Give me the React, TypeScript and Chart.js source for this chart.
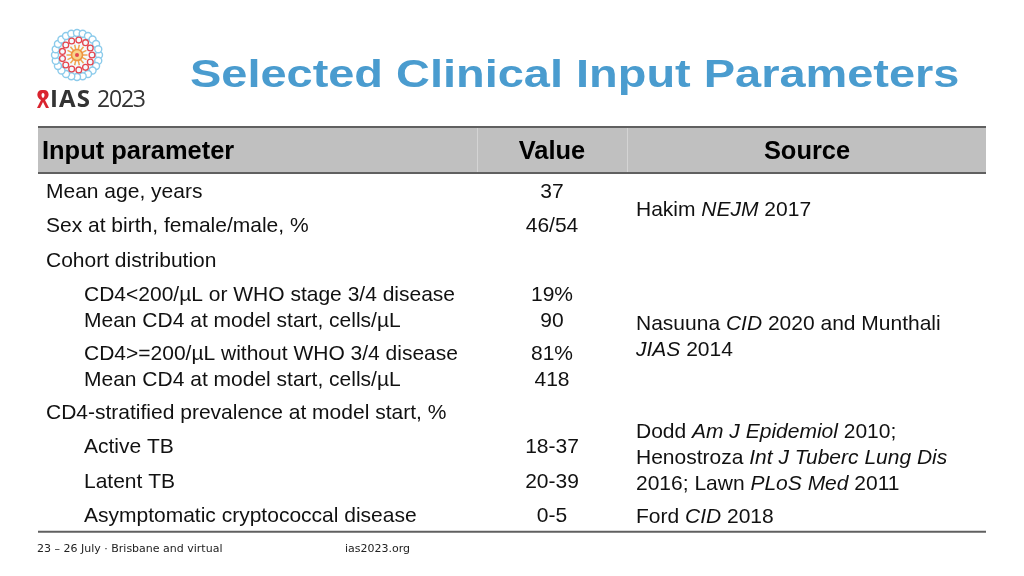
import React, { useEffect, useRef } from "react";
import { Chart, registerables } from "chart.js";

Chart.register(...registerables);

// ---- data ----
const title = "Selected Clinical Input Parameters";
const headers = ["Input parameter", "Value", "Source"];
const parameters = [
  "Mean age, years",
  "Sex at birth, female/male, %",
  "Cohort distribution",
  "CD4<200/µL or WHO stage 3/4 disease",
  "Mean CD4 at model start, cells/µL",
  "CD4>=200/µL without WHO 3/4 disease",
  "Mean CD4 at model start, cells/µL",
  "CD4-stratified prevalence at model start, %",
  "Active TB",
  "Latent TB",
  "Asymptomatic cryptococcal disease",
];
const indentLevel = [0, 0, 0, 1, 1, 1, 1, 0, 1, 1, 1];
const values = ["37", "46/54", "", "19%", "90", "81%", "418", "", "18-37", "20-39", "0-5"];
// source lines: segments of [text, italic]
const sources: [string, boolean][][] = [
  [["Hakim ", false], ["NEJM", true], [" 2017", false]],
  [["Nasuuna ", false], ["CID", true], [" 2020 and Munthali", false]],
  [["JIAS", true], [" 2014", false]],
  [["Dodd ", false], ["Am J Epidemiol", true], [" 2010;", false]],
  [["Henostroza ", false], ["Int J Tuberc Lung Dis", true]],
  [["2016; Lawn ", false], ["PLoS Med", true], [" 2011", false]],
  [["Ford ", false], ["CID", true], [" 2018", false]],
];
const footerLeft = "23 – 26 July · Brisbane and virtual";
const footerRight = "ias2023.org";

// ---- layout (row units) ----
const paramRows = [0, 1, 2, 3, 3.75, 4.7, 5.45, 6.4, 7.4, 8.4, 9.4];
const sourceRows = [0.52, 3.83, 4.58, 6.96, 7.71, 8.46, 9.42];
const ROW_PX = 34.5;
const FIRST_ROW_PX = 192;
const HEADER_ROW = -1.17;
const TABLE_TOP = -1.884;
const HEADER_BOTTOM = -0.55;
const TABLE_BOTTOM = 9.85;
const X_TABLE_LEFT = 38;
const X_TABLE_RIGHT = 986;
const X_PARAM = 46;
const X_INDENT = 84;
const X_VALUE = 552;
const X_SOURCE = 636;
const X_SEP1 = 477;
const X_SEP2 = 627;
const X_SOURCE_HEAD = 807;

const FONT = '"Liberation Sans", Arial, Helvetica, sans-serif';

const tablePlugin = {
  id: "tablePlugin",
  afterDraw(chart: any) {
    const ctx = chart.ctx as CanvasRenderingContext2D;
    const xs = chart.scales.x;
    const ys = chart.scales.y;
    const px = (v: number) => xs.getPixelForValue(v);
    const py = (v: number) => ys.getPixelForValue(v);
    ctx.save();

    // title
    ctx.fillStyle = "#4a9ccf";
    ctx.font = `bold 38px ${FONT}`;
    ctx.textBaseline = "alphabetic";
    ctx.textAlign = "left";
    ctx.save();
    ctx.translate(px(190), 87);
    ctx.scale(1.235, 1);
    ctx.fillText(title, 0, 0);
    ctx.restore();
    ctx.textBaseline = "middle";

    // header background
    const top = py(TABLE_TOP);
    const hb = py(HEADER_BOTTOM);
    ctx.fillStyle = "#c0c0c0";
    ctx.fillRect(px(X_TABLE_LEFT), top, px(X_TABLE_RIGHT) - px(X_TABLE_LEFT), hb - top);
    ctx.strokeStyle = "#d4d4d4";
    ctx.lineWidth = 1;
    [X_SEP1, X_SEP2].forEach((s) => {
      ctx.beginPath();
      ctx.moveTo(px(s) + 0.5, top);
      ctx.lineTo(px(s) + 0.5, hb);
      ctx.stroke();
    });
    ctx.strokeStyle = "#606060";
    ctx.lineWidth = 2;
    [top, hb, py(TABLE_BOTTOM)].forEach((y) => {
      ctx.beginPath();
      ctx.moveTo(px(X_TABLE_LEFT), y);
      ctx.lineTo(px(X_TABLE_RIGHT), y);
      ctx.stroke();
    });

    // header text
    ctx.fillStyle = "#000";
    ctx.font = `bold 26.5px ${FONT}`;
    const hy = py(HEADER_ROW);
    const drawHead = (t: string, x: number, align: CanvasTextAlign) => {
      ctx.save();
      ctx.translate(x, hy);
      ctx.scale(0.96, 1);
      ctx.textAlign = align;
      ctx.fillText(t, 0, 0);
      ctx.restore();
    };
    drawHead(headers[0], px(42), "left");
    drawHead(headers[1], px(X_VALUE), "center");
    drawHead(headers[2], px(X_SOURCE_HEAD), "center");

    // body
    ctx.font = `21px ${FONT}`;
    ctx.fillStyle = "#111";
    parameters.forEach((p, i) => {
      const y = py(paramRows[i]);
      ctx.textAlign = "left";
      ctx.fillText(p, px(indentLevel[i] ? X_INDENT : X_PARAM), y);
      if (values[i]) {
        ctx.textAlign = "center";
        ctx.fillText(values[i], px(X_VALUE), y);
      }
    });
    ctx.textAlign = "left";
    sources.forEach((segs, i) => {
      const y = py(sourceRows[i]);
      let x = px(X_SOURCE);
      segs.forEach(([t, it]) => {
        ctx.font = `${it ? "italic " : ""}21px ${FONT}`;
        ctx.fillText(t, x, y);
        x += ctx.measureText(t).width;
      });
    });

    // footer
    ctx.fillStyle = "#222";
    ctx.font = `11px "DejaVu Sans", Verdana, sans-serif`;
    ctx.fillText(footerLeft, px(37), 549);
    ctx.fillText(footerRight, px(345), 549);
    ctx.restore();
  },
};

function Logo() {
  const cx = 77;
  const cy = 55;
  const beads = Array.from({ length: 24 }, (_, i) => (i / 24) * Math.PI * 2);
  const scallops = Array.from({ length: 13 }, (_, i) => (i / 13) * Math.PI * 2);
  const rays = Array.from({ length: 14 }, (_, i) => (i / 14) * Math.PI * 2);
  return (
    <svg width={180} height={130} style={{ position: "absolute", left: 0, top: 0 }}>
      <circle cx={cx} cy={cy} r={22} fill="#f3fafe" />
      {beads.map((a, i) => (
        <circle key={"b" + i} cx={cx + 22 * Math.cos(a)} cy={cy + 22 * Math.sin(a)} r={3.5} fill="#fff" stroke="#8ccbeb" strokeWidth={1.4} />
      ))}
      {scallops.map((a, i) => {
        const r = 15;
        return <circle key={"s" + i} cx={cx + r * Math.cos(a)} cy={cy + r * Math.sin(a)} r={2.9} fill="none" stroke="#e5464e" strokeWidth={1.3} />;
      })}
      {rays.map((a, i) => (
        <line key={"r" + i} x1={cx + 5 * Math.cos(a)} y1={cy + 5 * Math.sin(a)} x2={cx + 10.5 * Math.cos(a)} y2={cy + 10.5 * Math.sin(a)} stroke="#f2a650" strokeWidth={1.5} />
      ))}
      <circle cx={cx} cy={cy} r={5.5} fill="#f8d48a" stroke="#ef9240" strokeWidth={1.6} />
      <circle cx={cx} cy={cy} r={2} fill="#e5464e" />
      <path d="M42 90 C36 90 36 98 41 100 L37 108 L40 108 L43 102 L46 108 L49 108 L45 100 C50 98 50 90 44 90 Z M43 93 C45 93 45 97 43 98 C41 97 41 93 43 93 Z" fill="#d9232e" />
      <text x={50} y={107} fontFamily='"Open Sans", "Liberation Sans", sans-serif' fontWeight={700} fontSize={24} fill="#333" textLength={40}>IAS</text>
      <text x={97} y={107} fontFamily='"Open Sans", "Liberation Sans", sans-serif' fontSize={23} fill="#333" textLength={49}>2023</text>
    </svg>
  );
}

export default function App() {
  const ref = useRef<HTMLCanvasElement>(null);
  useEffect(() => {
    if (!ref.current) return;
    const minY = -FIRST_ROW_PX / ROW_PX;
    const maxY = (576 - FIRST_ROW_PX) / ROW_PX;
    const points = parameters.map((_, i) => ({ x: X_VALUE, y: paramRows[i] }));
    const chart = new Chart(ref.current, {
      type: "scatter",
      data: { datasets: [{ data: points, pointRadius: 0, pointHoverRadius: 0 }] },
      options: {
        animation: false,
        responsive: false,
        events: [],
        layout: { padding: 0 },
        plugins: { legend: { display: false }, tooltip: { enabled: false }, title: { display: false } },
        scales: {
          x: { type: "linear", min: 0, max: 1024, display: false },
          y: { type: "linear", min: minY, max: maxY, reverse: true, display: false },
        },
      },
      plugins: [tablePlugin],
    });
    return () => chart.destroy();
  }, []);
  return (
    <div style={{ position: "fixed", left: 0, top: 0, width: 1024, height: 576, background: "#fff" }}>
      <canvas ref={ref} width={1024} height={576} style={{ position: "absolute", left: 0, top: 0 }} />
      <Logo />
    </div>
  );
}
